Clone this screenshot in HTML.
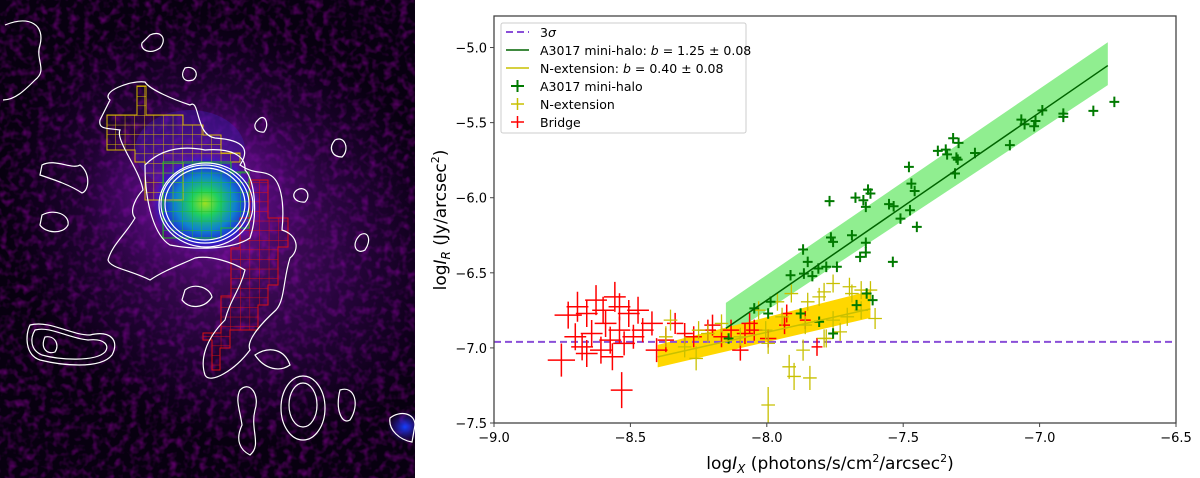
<!DOCTYPE html>
<html><head><meta charset="utf-8">
<style>
html,body{margin:0;padding:0;background:#fff;width:1200px;height:478px;overflow:hidden;font-family:"DejaVu Sans","Liberation Sans",sans-serif;}
svg{display:block;overflow:hidden;}
#wrap{position:relative;width:1200px;height:478px;overflow:hidden;}
#img{position:absolute;left:0;top:0;}
#chart{position:absolute;left:0;top:0;}
</style></head><body>
<div id="wrap">
<svg id="img" width="415" height="478" viewBox="0 0 415 478">
<defs>
<filter id="noise" x="0" y="0" width="100%" height="100%">
<feTurbulence type="fractalNoise" baseFrequency="0.13" numOctaves="2" seed="4"/>
<feColorMatrix type="matrix" values="0 0 0 0 0.5  0 0 0 0 0  0 0 0 0 0.6  0 0 0 1.8 -0.8"/>
</filter>
<radialGradient id="haze" cx="0.5" cy="0.5" r="0.5">
<stop offset="0" stop-color="#a020d0" stop-opacity="0.85"/>
<stop offset="0.5" stop-color="#7a10b0" stop-opacity="0.5"/>
<stop offset="1" stop-color="#5a0090" stop-opacity="0"/>
</radialGradient>
<radialGradient id="core" cx="0.5" cy="0.5" r="0.5">
<stop offset="0" stop-color="#a0e020"/>
<stop offset="0.25" stop-color="#20d060"/>
<stop offset="0.55" stop-color="#1080d0"/>
<stop offset="0.8" stop-color="#2020d0"/>
<stop offset="1" stop-color="#6010c0" stop-opacity="0"/>
</radialGradient>
<radialGradient id="blue" cx="0.5" cy="0.5" r="0.5">
<stop offset="0" stop-color="#1040ff"/><stop offset="1" stop-color="#5010b0" stop-opacity="0"/>
</radialGradient>
<pattern id="gy" width="9.6" height="9.6" patternUnits="userSpaceOnUse"><path d="M0 0H9.6M0 0V9.6" stroke="#e0c000" stroke-width="0.9" fill="none"/></pattern>
<pattern id="gg" width="9.6" height="9.6" patternUnits="userSpaceOnUse"><path d="M0 0H9.6M0 0V9.6" stroke="#20c020" stroke-width="0.9" fill="none"/></pattern>
<pattern id="gr" width="9.6" height="9.6" patternUnits="userSpaceOnUse"><path d="M0 0H9.6M0 0V9.6" stroke="#e01010" stroke-width="0.9" fill="none"/></pattern>
</defs>
<rect width="415" height="478" fill="#080010"/>
<rect width="415" height="478" filter="url(#noise)" opacity="0.55"/>
<ellipse cx="230" cy="230" rx="240" ry="200" fill="url(#haze)" transform="rotate(35 230 230)" opacity="0.6"/>
<ellipse cx="200" cy="190" rx="120" ry="100" fill="url(#haze)" opacity="0.75"/>
<ellipse cx="190" cy="150" rx="55" ry="40" fill="#4020c0" opacity="0.35"/>
<ellipse cx="205" cy="203" rx="55" ry="50" fill="url(#core)"/>
<ellipse cx="405" cy="427" rx="18" ry="16" fill="url(#blue)"/>
<g opacity="0.95">
<path d="M107 115H137V86H146V115H183V125H203V135H221V153H240V162H183V200H145V162H135V150H107Z" fill="url(#gy)" stroke="#e0c000" stroke-width="1"/>
<path d="M163 162H231V172H249V228H221V238H163Z" fill="url(#gg)" stroke="#20c020" stroke-width="1"/>
<path d="M250 180H268V218H288V247H278V285H268V305H258V330H230V348H220V370H212V340H203V333H221V296H231V248H240V218H250Z" fill="url(#gr)" stroke="#e01010" stroke-width="1"/>
</g>
<g fill="none" stroke="#fff" stroke-width="1.2">
<ellipse cx="205" cy="204" rx="40" ry="36"/>
<ellipse cx="205" cy="204" rx="44" ry="39"/>
<ellipse cx="206" cy="205" rx="47" ry="42"/>
<path d="M110 100C100 92 130 80 145 82C150 90 175 100 190 105C200 98 195 135 215 138C245 140 250 150 240 165C255 175 262 170 270 175C280 180 285 200 282 230C298 235 300 250 290 258C283 280 285 300 276 310C265 320 245 340 250 350C235 370 210 385 205 375C200 360 205 340 225 320C230 300 240 290 245 270C232 262 210 255 195 258C180 265 165 270 150 280C130 270 110 268 108 260C112 245 125 235 135 218C128 210 138 195 143 190C140 170 115 140 120 130C108 128 98 130 100 120Z"/>
<path d="M145 165C160 150 180 145 205 150C230 148 246 155 245 170C255 180 258 215 250 238C232 250 195 250 170 245C155 236 145 205 145 165Z"/>
<path d="M5 25C30 15 45 25 40 45C35 60 48 70 35 80C25 90 15 100 3 100"/>
<path d="M150 35C160 30 168 38 160 48C150 55 140 50 142 43Z"/>
<path d="M185 68C195 65 200 75 193 80C183 83 180 75 185 68Z"/>
<path d="M42 165C55 158 72 170 80 165C90 172 90 190 82 193C70 185 55 180 40 175Z"/>
<path d="M42 215C55 208 70 215 68 225C63 235 45 233 40 225Z"/>
<path d="M258 120C265 112 270 125 264 132C255 133 252 125 258 120Z"/>
<path d="M335 140C345 135 350 150 342 157C332 157 328 148 335 140Z"/>
<path d="M297 190C305 185 312 195 305 202C295 203 290 195 297 190Z"/>
<path d="M360 235C368 230 372 240 365 250C357 255 350 245 360 235Z"/>
<path d="M185 290C195 282 210 288 212 297C205 308 190 310 182 300Z"/>
<path d="M30 325C50 320 70 335 90 335C110 330 120 340 112 355C100 370 60 365 40 360C25 355 25 335 30 325Z"/>
<path d="M35 330C50 326 68 338 88 340C105 338 110 346 105 352C95 362 60 360 42 355C30 350 30 338 35 330Z"/>
<path d="M45 337C55 335 60 345 55 352C47 355 40 348 45 337Z"/>
<ellipse cx="303" cy="408" rx="22" ry="32"/>
<ellipse cx="303" cy="405" rx="14" ry="22"/>
<path d="M240 390C250 380 260 395 255 410C250 430 262 445 250 455C240 450 235 440 242 425C240 410 235 400 240 390Z"/>
<path d="M340 390C355 385 360 405 350 420C342 425 335 410 340 390Z"/>
<path d="M255 355C270 345 285 350 290 365C280 372 265 370 255 355Z"/>
<path d="M390 418C400 410 415 413 415 425L412 442C400 440 388 430 390 418Z"/>
</g>
</svg>

<svg id="chart" width="1200" height="478" viewBox="0 0 1200 478"></svg>

<svg style="position:absolute;left:0;top:0" width="1200" height="478" viewBox="0 0 1200 478">
<text x="830" y="469" text-anchor="middle" font-size="17" fill="#000">log<tspan font-style="italic">I</tspan><tspan font-style="italic" font-size="12" dy="4">X</tspan><tspan dy="-4"> (photons/s/cm</tspan><tspan font-size="11" dy="-7">2</tspan><tspan dy="7">/arcsec</tspan><tspan font-size="11" dy="-7">2</tspan><tspan dy="7">)</tspan></text>
<text transform="translate(446 220) rotate(-90)" text-anchor="middle" font-size="17" fill="#000">log<tspan font-style="italic">I</tspan><tspan font-style="italic" font-size="12" dy="4">R</tspan><tspan dy="-4"> (Jy/arcsec</tspan><tspan font-size="11" dy="-7">2</tspan><tspan dy="7">)</tspan></text>
<g font-size="12.5" fill="#000">
<rect x="501" y="23" width="245" height="110" rx="2" fill="#fff" fill-opacity="0.85" stroke="#ccc"/>
<line x1="506" x2="529" y1="32" y2="32" stroke="#8a4fd8" stroke-width="2" stroke-dasharray="7,4"/>
<text x="540" y="37">3<tspan font-style="italic">σ</tspan></text>
<line x1="506" x2="529" y1="50" y2="50" stroke="#006400" stroke-width="1.5"/>
<text x="540" y="55">A3017 mini-halo: <tspan font-style="italic">b</tspan> = 1.25 ± 0.08</text>
<line x1="506" x2="529" y1="68" y2="68" stroke="#c8c000" stroke-width="1.5"/>
<text x="540" y="73">N-extension: <tspan font-style="italic">b</tspan> = 0.40 ± 0.08</text>
<path d="M511 86H524M517.5 80V92" stroke="#007a00" stroke-width="2"/>
<text x="540" y="91">A3017 mini-halo</text>
<path d="M511 104H524M517.5 98V110" stroke="#c8c000" stroke-width="1.5"/>
<text x="540" y="109">N-extension</text>
<path d="M511 122H524M517.5 116V128" stroke="#ff0000" stroke-width="1.5"/>
<text x="540" y="127">Bridge</text>
</g>
</svg>
</div>

<script>
// ---- data ----
const xTicks = [-9.0, -8.5, -8.0, -7.5, -7.0, -6.5];
const yTicks = [-7.5, -7.0, -6.5, -6.0, -5.5, -5.0];
const sigma3 = -6.96;
const haloX = [-6.726,-6.803,-6.913,-6.913,-6.99,-7.015,-7.02,-7.067,-7.055,-7.109,-7.237,-7.297,-7.305,-7.30,-7.317,-7.31,-7.344,-7.339,-7.373,-7.479,-7.47,-7.458,-7.552,-7.535,-7.475,-7.51,-7.45,-7.629,-7.62,-7.675,-7.646,-7.637,-7.77,-7.688,-7.637,-7.637,-7.658,-7.765,-7.757,-7.538,-7.867,-7.85,-7.913,-7.864,-7.833,-7.811,-7.782,-7.743,-8.046,-7.995,-7.986,-7.876,-7.808,-7.757,-7.671,-7.612,-7.634,-8.14];
const haloY = [-5.362,-5.422,-5.44,-5.462,-5.418,-5.489,-5.524,-5.48,-5.511,-5.65,-5.702,-5.635,-5.733,-5.746,-5.604,-5.839,-5.68,-5.711,-5.688,-5.795,-5.906,-5.955,-6.043,-6.057,-6.083,-6.139,-6.194,-5.946,-5.972,-5.999,-6.017,-6.061,-6.023,-6.25,-6.3,-6.365,-6.394,-6.265,-6.294,-6.427,-6.345,-6.427,-6.516,-6.505,-6.522,-6.471,-6.46,-6.46,-6.737,-6.771,-6.693,-6.771,-6.826,-6.904,-6.715,-6.682,-6.638,-6.937];
const nextX = [-7.995,-7.918,-7.9,-7.842,-7.867,-7.995,-7.79,-7.731,-7.757,-7.705,-7.654,-7.603,-7.688,-7.79,-7.757,-7.697,-7.654,-7.62,-7.808,-7.85,-7.91,-7.961,-8.03,-7.944,-7.859,-8.004,-8.166,-8.25,-8.301,-8.259,-8.37,-8.353,-8.216,-8.097,-7.782];
const nextY = [-7.38,-7.126,-7.19,-7.2,-7.015,-6.97,-6.937,-6.893,-6.815,-6.793,-6.749,-6.804,-6.638,-6.627,-6.571,-6.593,-6.615,-6.615,-6.66,-6.693,-6.638,-6.693,-6.749,-6.793,-6.848,-6.882,-6.837,-6.882,-6.993,-7.07,-6.926,-6.815,-6.904,-6.926,-6.937];
const nextYErr = [0.12,0.08,0.09,0.08,0.07,0.07,0.06,0.06,0.06,0.06,0.06,0.07,0.06,0.06,0.06,0.06,0.06,0.06,0.06,0.06,0.06,0.06,0.06,0.06,0.06,0.06,0.06,0.06,0.07,0.08,0.07,0.07,0.06,0.06,0.06];
const bridgeX = [-8.753,-8.532,-8.728,-8.694,-8.66,-8.626,-8.6,-8.557,-8.54,-8.506,-8.472,-8.591,-8.54,-8.642,-8.677,-8.608,-8.566,-8.523,-8.489,-8.455,-8.404,-8.421,-8.37,-8.336,-8.301,-8.268,-8.216,-8.199,-8.166,-8.131,-8.097,-8.08,-8.063,-8.046,-7.995,-7.927,-7.935,-7.859,-7.816,-8.574,-8.66,-8.702];
const bridgeY = [-7.081,-7.281,-6.782,-6.726,-6.771,-6.682,-6.749,-6.66,-6.726,-6.771,-6.749,-6.837,-6.882,-6.904,-6.993,-7.015,-7.059,-6.97,-6.926,-6.882,-7.015,-6.837,-6.948,-6.837,-6.904,-6.926,-6.882,-6.848,-6.926,-6.882,-7.015,-6.904,-6.837,-6.882,-6.937,-6.771,-6.848,-6.815,-6.993,-6.948,-7.037,-6.926];
const bridgeXErr = [0.05,0.04,0.05,0.04,0.04,0.04,0.04,0.04,0.04,0.04,0.04,0.04,0.04,0.04,0.04,0.04,0.04,0.04,0.04,0.04,0.04,0.04,0.03,0.03,0.03,0.03,0.03,0.03,0.03,0.03,0.03,0.03,0.03,0.03,0.03,0.02,0.02,0.02,0.02,0.04,0.04,0.04];
const bridgeYErr = [0.11,0.12,0.09,0.1,0.09,0.1,0.09,0.1,0.09,0.09,0.09,0.09,0.09,0.09,0.09,0.09,0.09,0.08,0.08,0.08,0.08,0.08,0.08,0.07,0.07,0.07,0.07,0.07,0.07,0.07,0.07,0.07,0.07,0.07,0.06,0.06,0.06,0.06,0.06,0.09,0.09,0.09];
const haloFitX = [-8.15, -6.75];
const haloFitY = [-6.87, -5.12];
const haloBandLo = [-6.93, -5.25];
const haloBandHi = [-6.70, -4.965];
const nextFitX = [-8.4, -7.62];
const nextFitY = [-7.06, -6.74];
const nextBandLo = [-7.13, -6.80];
const nextBandHi = [-6.98, -6.62];

// ---- axes ----
const L=494, R=1176, T=16, B=423;
const xMin=-9.0, xMax=-6.5, yMin=-7.5, yMax=-4.79;
const sx = v => L + (v - xMin) / (xMax - xMin) * (R - L);
const sy = v => B - (v - yMin) / (yMax - yMin) * (B - T);
const NS='http://www.w3.org/2000/svg';
const svg=document.getElementById('chart');
function mk(tag, attrs, parent){const e=document.createElementNS(NS,tag);for(const k in attrs)e.setAttribute(k,attrs[k]);(parent||svg).appendChild(e);return e;}
const fmt = v => (v<0?'\u2212':'')+Math.abs(v).toFixed(1);

const plot = mk('g',{});



const hb = mk('polygon',{points:`${sx(haloFitX[0])},${sy(haloBandLo[0])} ${sx(haloFitX[1])},${sy(haloBandLo[1])} ${sx(haloFitX[1])},${sy(haloBandHi[1])} ${sx(haloFitX[0])},${sy(haloBandHi[0])}`,fill:'#90ee90'},plot);


const nb = mk('polygon',{points:`${sx(nextFitX[0])},${sy(nextBandLo[0])} ${sx(nextFitX[1])},${sy(nextBandLo[1])} ${sx(nextFitX[1])},${sy(nextBandHi[1])} ${sx(nextFitX[0])},${sy(nextBandHi[0])}`,fill:'#ffd700'},plot);



const sl = mk('line',{x1:L,x2:R,y1:sy(sigma3),y2:sy(sigma3),stroke:'#8a4fd8','stroke-width':2,'stroke-dasharray':'7,4'},plot);



function errs(xs, ys, xe, ye, color, name, w){
  const g = mk('g',{stroke:color,'stroke-width':w||1.5},plot);
  
  
  for(let i=0;i<xs.length;i++){
    const ex = Array.isArray(xe)?xe[i]:xe, ey = Array.isArray(ye)?ye[i]:ye;
    const p = mk('path',{d:`M${sx(xs[i]-ex)} ${sy(ys[i])}H${sx(xs[i]+ex)}M${sx(xs[i])} ${sy(ys[i]-ey)}V${sy(ys[i]+ey)}`,fill:'none'},g);
    
    
  }
}
errs(bridgeX, bridgeY, bridgeXErr, bridgeYErr, '#ff0000', 'bridge-series', 1.5);
errs(nextX, nextY, 0.025, nextYErr, '#c8c000', 'n-extension-series', 1.3);
errs(haloX, haloY, 0.018, 0.035, '#007a00', 'a3017-halo-series', 2);

const hl = mk('line',{x1:sx(haloFitX[0]),y1:sy(haloFitY[0]),x2:sx(haloFitX[1]),y2:sy(haloFitY[1]),stroke:'#006400','stroke-width':1.5},plot);


const nl = mk('line',{x1:sx(nextFitX[0]),y1:sy(nextFitY[0]),x2:sx(nextFitX[1]),y2:sy(nextFitY[1]),stroke:'#c8c000','stroke-width':1.5},plot);



const fr = mk('rect',{x:L,y:T,width:R-L,height:B-T,fill:'none',stroke:'#444','stroke-width':1.3});



xTicks.forEach(v=>{
  const t=mk('line',{x1:sx(v),x2:sx(v),y1:B,y2:B+4,stroke:'#444','stroke-width':1});
  
  
  const l=mk('text',{x:sx(v),y:B+19,'text-anchor':'middle','font-size':13,fill:'#000'});
  l.textContent=fmt(v);
  
  
});
yTicks.forEach(v=>{
  const t=mk('line',{x1:L-4,x2:L,y1:sy(v),y2:sy(v),stroke:'#444','stroke-width':1});
  
  
  const l=mk('text',{x:L-7,y:sy(v)+5,'text-anchor':'end','font-size':13,fill:'#000'});
  l.textContent=fmt(v);
  
  
});
</script>
</body></html>
